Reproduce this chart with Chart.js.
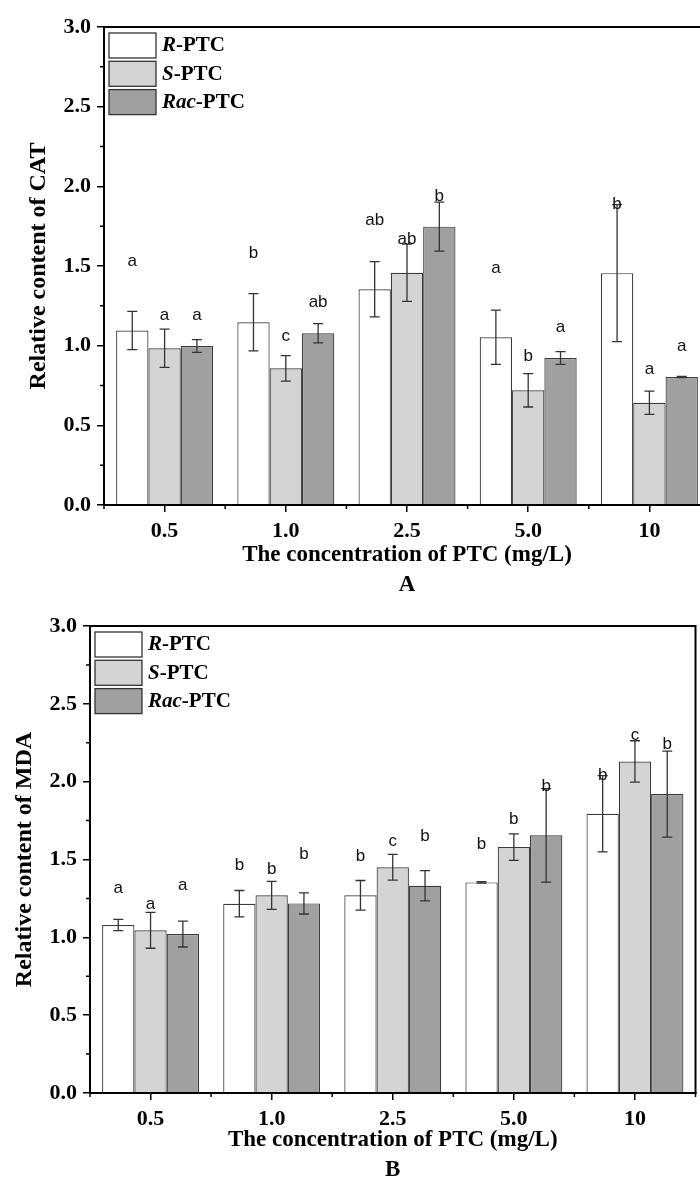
<!DOCTYPE html>
<html>
<head>
<meta charset="utf-8">
<script src="https://cdn.jsdelivr.net/npm/chart.js@4"></script>
<style>
  html, body { margin: 0; padding: 0; background: #fff; overflow: hidden; width: 700px; height: 1177px; }
  canvas { position: absolute; left: 0; }
</style>
</head>
<body>
<canvas id="catChart" width="720" height="600" style="top:0"></canvas>
<canvas id="mdaChart" width="700" height="585" style="top:600px"></canvas>
<script>
// PTC concentrations (mg/L)
var doses = ['0.5', '1.0', '2.5', '5.0', '10'];
var seriesNames = ['R-PTC', 'S-PTC', 'Rac-PTC'];

// CAT relative content, mean and SD
var catR = [1.095, 1.147, 1.354, 1.053, 1.455];
var catRSd = [0.12, 0.18, 0.173, 0.17, 0.43];
var catS = [0.984, 0.858, 1.458, 0.72, 0.642];
var catSSd = [0.12, 0.08, 0.18, 0.105, 0.073];
var catRac = [0.998, 1.078, 1.747, 0.923, 0.803];
var catRacSd = [0.04, 0.06, 0.154, 0.04, 0.004];
// significance letters and the value they sit at
var catRLetters = ['a', 'b', 'ab', 'a', 'b'];
var catSLetters = ['a', 'c', 'ab', 'b', 'a'];
var catRacLetters = ['a', 'ab', 'b', 'a', 'a'];
var catRLetterAt = [1.527, 1.58, 1.789, 1.486, 1.89];
var catSLetterAt = [1.193, 1.061, 1.668, 0.931, 0.852];
var catRacLetterAt = [1.193, 1.27, 1.94, 1.116, 0.994];

// MDA relative content, mean and SD
var mdaR = [1.079, 1.216, 1.27, 1.353, 1.794];
var mdaRSd = [0.036, 0.085, 0.095, 0.005, 0.245];
var mdaS = [1.045, 1.27, 1.45, 1.58, 2.13];
var mdaSSd = [0.115, 0.09, 0.083, 0.085, 0.133];
var mdaRac = [1.021, 1.218, 1.331, 1.655, 1.92];
var mdaRacSd = [0.083, 0.068, 0.097, 0.3, 0.276];
var mdaRLetters = ['a', 'b', 'b', 'b', 'b'];
var mdaSLetters = ['a', 'b', 'c', 'b', 'c'];
var mdaRacLetters = ['a', 'b', 'b', 'b', 'b'];
var mdaRLetterAt = [1.315, 1.464, 1.518, 1.597, 2.042];
var mdaSLetterAt = [1.212, 1.437, 1.614, 1.758, 2.299];
var mdaRacLetterAt = [1.331, 1.533, 1.646, 1.972, 2.24];

var serif = '"Liberation Serif", "Times New Roman", serif';
var sans = '"Liberation Sans", Arial, sans-serif';
var fills = ['#ffffff', '#d4d4d4', '#a0a0a0'];

// error bars, letters, minor ticks, frame and legend
var extras = {
  id: 'extras',
  afterDatasetsDraw: function (chart) {
    var ctx = chart.ctx, a = chart.chartArea, ys = chart.scales.y;
    ctx.save();
    chart.data.datasets.forEach(function (ds, i) {
      chart.getDatasetMeta(i).data.forEach(function (bar, j) {
        var top = ys.getPixelForValue(ds.data[j] + ds.sd[j]);
        var bot = ys.getPixelForValue(ds.data[j] - ds.sd[j]);
        ctx.strokeStyle = '#333';
        ctx.lineWidth = 1.3;
        ctx.beginPath();
        ctx.moveTo(bar.x, top); ctx.lineTo(bar.x, bot);
        ctx.moveTo(bar.x - 5, top); ctx.lineTo(bar.x + 5, top);
        ctx.moveTo(bar.x - 5, bot); ctx.lineTo(bar.x + 5, bot);
        ctx.stroke();
        ctx.fillStyle = '#111';
        ctx.font = '17px ' + sans;
        ctx.textAlign = 'center';
        ctx.textBaseline = 'middle';
        ctx.fillText(ds.letters[j], bar.x, ys.getPixelForValue(ds.letterAt[j]));
      });
    });

    // frame
    ctx.strokeStyle = '#000';
    ctx.lineWidth = 2;
    ctx.strokeRect(a.left, a.top, a.right - a.left, a.bottom - a.top);

    // minor ticks
    ctx.lineWidth = 1.5;
    ctx.beginPath();
    for (var v = 0.25; v < 3; v += 0.5) {
      var py = ys.getPixelForValue(v);
      ctx.moveTo(a.left, py); ctx.lineTo(a.left - 4, py);
    }
    var step = (a.right - a.left) / doses.length;
    for (var k = 0; k <= doses.length; k++) {
      var px = a.left + k * step;
      ctx.moveTo(px, a.bottom); ctx.lineTo(px, a.bottom + 4);
    }
    ctx.stroke();

    // legend
    var lx = a.left + 5, ly = a.top + 6;
    chart.data.datasets.forEach(function (ds, i) {
      var by = ly + i * 28.3;
      ctx.fillStyle = ds.backgroundColor;
      ctx.fillRect(lx, by, 47, 25);
      ctx.strokeStyle = '#333';
      ctx.lineWidth = 1.3;
      ctx.strokeRect(lx, by, 47, 25);
      var parts = ds.label.split('-');
      ctx.fillStyle = '#000';
      ctx.textAlign = 'left';
      ctx.textBaseline = 'middle';
      ctx.font = 'italic bold 21px ' + serif;
      ctx.fillText(parts[0], lx + 53, by + 13);
      var w = ctx.measureText(parts[0]).width;
      ctx.font = 'bold 21px ' + serif;
      ctx.fillText('-' + parts[1], lx + 53 + w, by + 13);
    });
    ctx.restore();
  }
};

function makeChart(id, yTitle, panel, series, sds, letters, letterAt, box) {
  var datasets = series.map(function (vals, i) {
    return {
      label: seriesNames[i],
      data: vals,
      sd: sds[i],
      letters: letters[i],
      letterAt: letterAt[i],
      backgroundColor: fills[i],
      borderColor: '#3a3a3a',
      borderWidth: 1.2,
      categoryPercentage: 0.8,
      barPercentage: 1.0
    };
  });
  return new Chart(document.getElementById(id), {
    type: 'bar',
    data: { labels: doses, datasets: datasets },
    plugins: [extras],
    options: {
      responsive: false,
      animation: false,
      layout: { padding: { top: box.top, right: box.right, left: 0, bottom: 0 } },
      plugins: { legend: { display: false }, tooltip: { enabled: false } },
      scales: {
        x: {
          afterFit: function (s) { s.height = box.xHeight; },
          grid: { offset: false, drawOnChartArea: false, tickLength: 7, color: '#000', lineWidth: 1.5 },
          border: { display: true, color: '#000', width: 2 },
          ticks: { color: '#000', padding: 6, font: { family: serif, size: 22, weight: 'bold' } },
          title: {
            display: true,
            text: ['The concentration of PTC (mg/L)', panel],
            color: '#000',
            padding: 0,
            font: { family: serif, size: 23, weight: 'bold', lineHeight: 1.3 }
          }
        },
        y: {
          min: 0,
          max: 3,
          afterFit: function (s) { s.width = box.yWidth; },
          grid: { drawOnChartArea: false, tickLength: 7, color: '#000', lineWidth: 1.5 },
          border: { display: true, color: '#000', width: 2 },
          ticks: {
            stepSize: 0.5,
            padding: 6,
            color: '#000',
            font: { family: serif, size: 22, weight: 'bold' },
            callback: function (v) { return v.toFixed(1); }
          },
          title: {
            display: true,
            text: yTitle,
            color: '#000',
            padding: { top: box.titlePad, bottom: 0 },
            font: { family: serif, size: 24, weight: 'bold', lineHeight: 1.2 }
          }
        }
      }
    }
  });
}

makeChart('catChart', 'Relative content of CAT', 'A',
  [catR, catS, catRac], [catRSd, catSSd, catRacSd],
  [catRLetters, catSLetters, catRacLetters], [catRLetterAt, catSLetterAt, catRacLetterAt],
  { top: 27, right: 10, xHeight: 95, yWidth: 104, titlePad: 24 });

makeChart('mdaChart', 'Relative content of MDA', 'B',
  [mdaR, mdaS, mdaRac], [mdaRSd, mdaSSd, mdaRacSd],
  [mdaRLetters, mdaSLetters, mdaRacLetters], [mdaRLetterAt, mdaSLetterAt, mdaRacLetterAt],
  { top: 26, right: 4.5, xHeight: 92, yWidth: 90, titlePad: 10.6 });
</script>
</body>
</html>
